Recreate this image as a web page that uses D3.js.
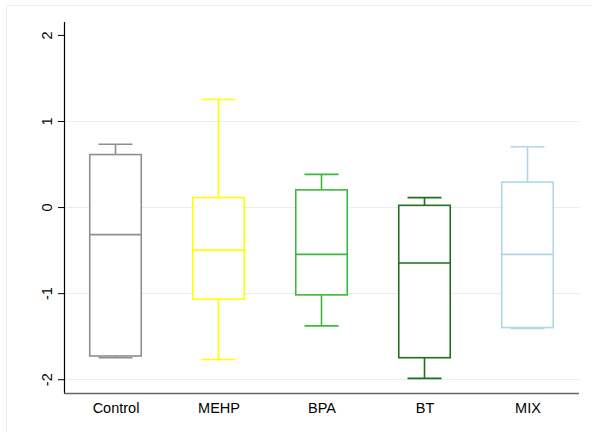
<!DOCTYPE html>
<html><head><meta charset="utf-8">
<script src="https://cdn.jsdelivr.net/npm/d3@7"></script>
<style>body{margin:0;background:#fff}svg{display:block}</style>
</head><body>
<svg id="c" width="592" height="432"></svg>
<script>
const categories = ["Control","MEHP","BPA","BT","MIX"];
const whiskerHigh = [0.73, 1.25, 0.38, 0.11, 0.70];
const q3 = [0.61, 0.11, 0.20, 0.02, 0.29];
const medians = [-0.32, -0.50, -0.55, -0.65, -0.55];
const q1 = [-1.73, -1.07, -1.02, -1.75, -1.40];
const whiskerLow = [-1.75, -1.77, -1.38, -1.99, -1.41];
const colors = ["#8f8f8f","#ffff00","#3cb83c","#1e6e1e","#add8e6"];
const yTicks = [-2,-1,0,1,2];
const yTickLabels = ["-2","-1","0","1","2"];
const gridTicks = [-2,-1,0,1];

(function(){
const svg = d3.select("#c");
const mLeft = 64, mRight = 579, mTop = 22, mBottom = 393;
const x = d3.scalePoint().domain(categories).range([mLeft, mRight]).padding(0.5);
const y = d3.scaleLinear().domain([-2.16, 2.15]).range([mBottom, mTop]);
const step = x.step();
const boxW = step * 0.5, capW = step * 0.33;

// outer frame
svg.append("rect").attr("x",6.5).attr("y",5.5).attr("width",600).attr("height",440)
  .attr("fill","none").attr("stroke","#e9f0f1").attr("stroke-width",1);

// grid
svg.append("g").selectAll("line").data(gridTicks).join("line")
  .attr("x1",mLeft).attr("x2",mRight)
  .attr("y1",d=>Math.round(y(d))+0.5).attr("y2",d=>Math.round(y(d))+0.5)
  .attr("stroke","#e6eeef").attr("stroke-width",1.2);

// y axis
const ya = svg.append("g").attr("transform",`translate(${mLeft},0)`)
  .call(d3.axisLeft(y).tickValues(yTicks).tickSize(6).tickFormat((d,i)=>yTickLabels[i]));
ya.select(".domain").remove();
ya.selectAll(".tick line").attr("stroke","#000");
ya.selectAll(".tick text").attr("font-family","'Liberation Sans',Arial,sans-serif")
  .attr("font-size","14.5px").attr("fill","#000")
  .attr("transform","rotate(-90)").attr("x",0).attr("y",-12).attr("dy","0")
  .attr("text-anchor","middle");
svg.append("line").attr("x1",mLeft+0.5).attr("x2",mLeft+0.5).attr("y1",mTop).attr("y2",mBottom)
  .attr("stroke","#000").attr("stroke-width",1.2);

// x axis
const xa = svg.append("g").attr("transform",`translate(0,${mBottom})`)
  .call(d3.axisBottom(x).tickSize(0).tickPadding(10));
xa.select(".domain").remove();
xa.selectAll(".tick text").attr("font-family","'Liberation Sans',Arial,sans-serif")
  .attr("font-size","14.5px").attr("fill","#000");
svg.append("line").attr("x1",mLeft).attr("x2",mRight).attr("y1",mBottom+0.5).attr("y2",mBottom+0.5)
  .attr("stroke","#666").attr("stroke-width",1.5);

// boxes
const g = svg.append("g").selectAll("g").data(categories).join("g");
g.each(function(c,i){
  const s = d3.select(this), cx = x(c), col = colors[i];
  const sw = 1.6;
  s.append("line").attr("x1",cx).attr("x2",cx).attr("y1",y(whiskerHigh[i])).attr("y2",y(q3[i]))
    .attr("stroke",col).attr("stroke-width",sw);
  s.append("line").attr("x1",cx).attr("x2",cx).attr("y1",y(q1[i])).attr("y2",y(whiskerLow[i]))
    .attr("stroke",col).attr("stroke-width",sw);
  s.append("line").attr("x1",cx-capW/2).attr("x2",cx+capW/2).attr("y1",y(whiskerHigh[i])).attr("y2",y(whiskerHigh[i]))
    .attr("stroke",col).attr("stroke-width",sw);
  s.append("line").attr("x1",cx-capW/2).attr("x2",cx+capW/2).attr("y1",y(whiskerLow[i])).attr("y2",y(whiskerLow[i]))
    .attr("stroke",col).attr("stroke-width",sw);
  s.append("rect").attr("x",cx-boxW/2).attr("width",boxW)
    .attr("y",y(q3[i])).attr("height",y(q1[i])-y(q3[i]))
    .attr("fill","#fff").attr("stroke",col).attr("stroke-width",sw);
  s.append("line").attr("x1",cx-boxW/2).attr("x2",cx+boxW/2).attr("y1",y(medians[i])).attr("y2",y(medians[i]))
    .attr("stroke",col).attr("stroke-width",sw);
});
})();
</script>
</body></html>
